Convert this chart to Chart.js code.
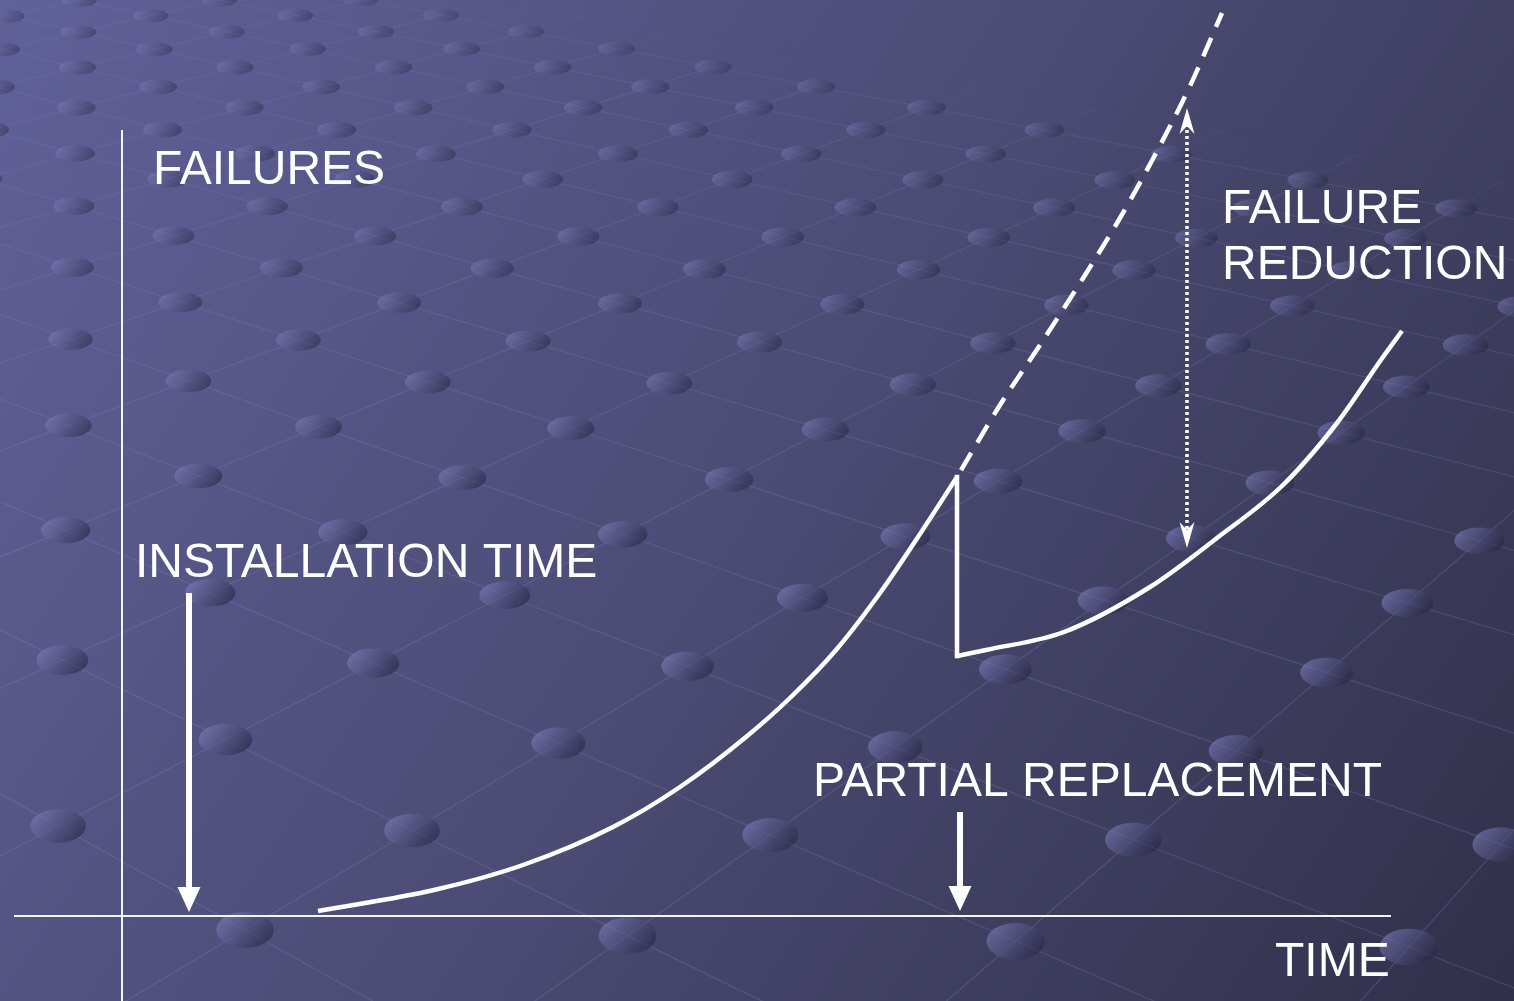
<!DOCTYPE html>
<html lang="en">
<head>
<meta charset="UTF-8">
<title>Failures over time</title>
<script src="https://cdn.jsdelivr.net/npm/chart.js@4.4.1/dist/chart.umd.min.js"></script>
<style>
  html, body { margin:0; padding:0; overflow:hidden; background:#4a4a72; }
  #wrap { width:1514px; height:1001px; }
</style>
</head>
<body>
<div id="wrap"><canvas id="failChart" width="1514" height="1001"></canvas></div>
<script>
// failure curve up to the partial replacement
const TIME_BEFORE = [19.6, 31.2, 40.1, 49.1, 55.8, 62.4, 66.9, 71.4, 75.8, 79.4, 83.5];
const FAIL_BEFORE = [0.5, 2.6, 5.1, 8.9, 12.9, 17.9, 21.9, 26.6, 32.3, 37.6, 43.9];
// failure curve after the partial replacement
const TIME_AFTER = [83.5, 86.4, 94.2, 102.8, 109.5, 116.1, 121.5, 126.1, 128.0];
const FAIL_AFTER = [26.0, 26.6, 28.4, 32.9, 37.8, 43.1, 49.3, 55.9, 58.5];
// what the failures would have done without the replacement
const TIME_PROJECTED = [83.5, 87.8, 91.8, 95.8, 99.8, 103.3, 106.8, 110.0];
const FAIL_PROJECTED = [43.9, 51.1, 57.1, 63.3, 69.8, 76.1, 83.0, 90.3];

// event markers: installation, partial replacement
const MARK_TIME = [6.7, 83.8];
const MARK_FROM = [32.3, 10.4];
const MARK_TO = [0.4, 0.5];
// failure reduction span
const GAP_TIME = 106.5;
const GAP_LOW = 36.8;
const GAP_HIGH = 80.8;

const LABELS = ['FAILURES', 'INSTALLATION TIME', 'PARTIAL REPLACEMENT', 'FAILURE', 'REDUCTION', 'TIME'];
const LABEL_AT = [[3.1, 73.2], [1.3, 33.9], [69.1, 12.0], [110.0, 69.3], [110.0, 63.7], [115.3, -6.0]];

const pts = (xs, ys) => xs.map((x, i) => ({ x, y: ys[i] }));

// solve the 8 homography terms from 4 point pairs
function homography(src, dst) {
  const A = [], b = [];
  src.forEach(([u, v], k) => {
    const [x, y] = dst[k];
    A.push([u, v, 1, 0, 0, 0, -u * x, -v * x]); b.push(x);
    A.push([0, 0, 0, u, v, 1, -u * y, -v * y]); b.push(y);
  });
  const n = 8;
  for (let c = 0; c < n; c++) {
    let p = c;
    for (let r = c + 1; r < n; r++) if (Math.abs(A[r][c]) > Math.abs(A[p][c])) p = r;
    [A[c], A[p]] = [A[p], A[c]]; [b[c], b[p]] = [b[p], b[c]];
    for (let r = 0; r < n; r++) {
      if (r === c) continue;
      const f = A[r][c] / A[c][c];
      for (let k = c; k < n; k++) A[r][k] -= f * A[c][k];
      b[r] -= f * b[c];
    }
  }
  const h = b.map((v, i) => v / A[i][i]);
  return (u, v) => {
    const w = h[6] * u + h[7] * v + 1;
    return { x: (h[0] * u + h[1] * v + h[2]) / w, y: (h[3] * u + h[4] * v + h[5]) / w, w };
  };
}

// slide background: diagonal gradient with a dotted lattice in perspective
const backdrop = {
  id: 'backdrop',
  beforeDraw(chart) {
    const ctx = chart.ctx, W = chart.width, H = chart.height;
    ctx.save();
    const g = ctx.createLinearGradient(0, 0, W, H);
    g.addColorStop(0, '#61619a');
    g.addColorStop(0.5, '#4b4b74');
    g.addColorStop(1, '#31304a');
    ctx.fillStyle = g;
    ctx.fillRect(0, 0, W, H);

    const proj = homography([[-6, 5], [-3, 8], [1, -1], [4, 2]],
                            [[74, 206], [658, 207], [245, 930], [1409, 947]]);
    const ok = p => p.w > 0.03 && p.x > -300 && p.x < W + 300 && p.y > -200 && p.y < H + 200;
    // the lattice dies out towards the top right corner and is softer near the top
    const fade = (x, y) => Math.max(0, Math.min(1, (520 + 5.5 * y - x) / 200)) * (0.55 + 0.45 * Math.min(1, y / 600));
    const R = 40;
    ctx.lineWidth = 1.2;
    for (let i = -R; i <= R; i++) {
      for (let j = -R; j < R; j++) {
        const a = proj(i, j);
        if (!ok(a)) continue;
        [proj(i, j + 1), proj(i + 1, j)].forEach(b => {
          if (!ok(b)) return;
          const f = fade((a.x + b.x) / 2, (a.y + b.y) / 2);
          if (f <= 0) return;
          ctx.strokeStyle = `rgba(150,150,215,${0.22 * f})`;
          ctx.beginPath(); ctx.moveTo(a.x, a.y); ctx.lineTo(b.x, b.y); ctx.stroke();
        });
      }
    }
    // flat shaded dots, shrinking more slowly than the lattice towards the horizon
    for (let i = -R; i <= R; i++) {
      for (let j = -R; j <= R; j++) {
        const c = proj(i, j);
        if (!ok(c) || c.x < -60 || c.x > W + 60 || c.y < -40 || c.y > H + 40) continue;
        const f = fade(c.x, c.y);
        if (f <= 0) continue;
        const hs = Math.abs(proj(i + 0.5, j + 0.5).x - c.x);
        const vs = Math.abs(proj(i + 0.5, j - 0.5).y - c.y);
        const rx = 27 * Math.sqrt(hs / 168), ry = 15.5 * Math.sqrt(vs / 87);
        const dg = ctx.createLinearGradient(c.x - rx * 0.7, c.y - ry, c.x + rx * 0.7, c.y + ry);
        dg.addColorStop(0, `rgba(128,128,192,${0.6 * f})`);
        dg.addColorStop(1, `rgba(34,34,60,${0.6 * f})`);
        ctx.fillStyle = dg;
        ctx.beginPath();
        ctx.ellipse(c.x, c.y, rx, ry, 0, 0, Math.PI * 2);
        ctx.fill();
      }
    }
    ctx.restore();
  }
};

// axes, arrows and captions
const callouts = {
  id: 'callouts',
  afterDatasetsDraw(chart) {
    const ctx = chart.ctx, xs = chart.scales.x, ys = chart.scales.y;
    const X = v => xs.getPixelForValue(v), Y = v => ys.getPixelForValue(v);
    ctx.save();
    ctx.strokeStyle = '#f4f4fa';
    ctx.fillStyle = '#ffffff';
    ctx.lineWidth = 2;
    ctx.beginPath();
    ctx.moveTo(X(-10.8), Y(0)); ctx.lineTo(X(126.9), Y(0));
    ctx.moveTo(X(0), Y(78.6)); ctx.lineTo(X(0), Y(-8.5));
    ctx.stroke();

    // solid down arrows
    ctx.strokeStyle = '#ffffff';
    MARK_TIME.forEach((t, i) => {
      const x = X(t), top = Y(MARK_FROM[i]), tip = Y(MARK_TO[i]);
      ctx.lineWidth = 6;
      ctx.beginPath(); ctx.moveTo(x, top); ctx.lineTo(x, tip - 22); ctx.stroke();
      ctx.beginPath();
      ctx.moveTo(x, tip); ctx.lineTo(x - 11.5, tip - 25); ctx.lineTo(x + 11.5, tip - 25);
      ctx.closePath(); ctx.fill();
    });

    // dotted two-headed arrow
    const gx = X(GAP_TIME), gTop = Y(GAP_HIGH), gBot = Y(GAP_LOW);
    ctx.lineWidth = 3.5;
    ctx.setLineDash([3, 3]);
    ctx.beginPath(); ctx.moveTo(gx, gTop + 16); ctx.lineTo(gx, gBot - 16); ctx.stroke();
    ctx.setLineDash([]);
    const head = (tip, dir) => {
      ctx.beginPath();
      ctx.moveTo(gx, tip);
      ctx.lineTo(gx - 7.5, tip + dir * 26);
      ctx.lineTo(gx, tip + dir * 18);
      ctx.lineTo(gx + 7.5, tip + dir * 26);
      ctx.closePath(); ctx.fill();
    };
    head(gTop, 1);
    head(gBot, -1);

    ctx.font = '48px "Liberation Sans", Arial, sans-serif';
    ctx.textBaseline = 'alphabetic';
    ctx.textAlign = 'left';
    LABELS.forEach((txt, i) => ctx.fillText(txt, X(LABEL_AT[i][0]), Y(LABEL_AT[i][1])));
    ctx.restore();
  }
};

const line = { borderColor: '#ffffff', borderWidth: 4.5, pointRadius: 0, fill: false };

new Chart(document.getElementById('failChart'), {
  type: 'line',
  data: {
    datasets: [
      { ...line, label: 'Failures', data: pts(TIME_BEFORE, FAIL_BEFORE), cubicInterpolationMode: 'monotone' },
      { ...line, label: 'Replacement', borderCapStyle: 'square',
        data: [{ x: TIME_BEFORE[TIME_BEFORE.length - 1], y: FAIL_BEFORE[FAIL_BEFORE.length - 1] },
               { x: TIME_AFTER[0], y: FAIL_AFTER[0] }] },
      { ...line, label: 'After replacement', data: pts(TIME_AFTER, FAIL_AFTER), cubicInterpolationMode: 'monotone' },
      { ...line, label: 'Without replacement', borderDash: [20, 12], borderDashOffset: -8,
        data: pts(TIME_PROJECTED, FAIL_PROJECTED), cubicInterpolationMode: 'monotone' }
    ]
  },
  options: {
    responsive: false,
    animation: false,
    events: [],
    layout: { padding: 0 },
    plugins: { legend: { display: false }, tooltip: { enabled: false } },
    scales: {
      x: { type: 'linear', min: -12.2, max: 139.2, display: false },
      y: { type: 'linear', min: -8.5, max: 91.6, display: false }
    }
  },
  plugins: [backdrop, callouts]
});
</script>
</body>
</html>
